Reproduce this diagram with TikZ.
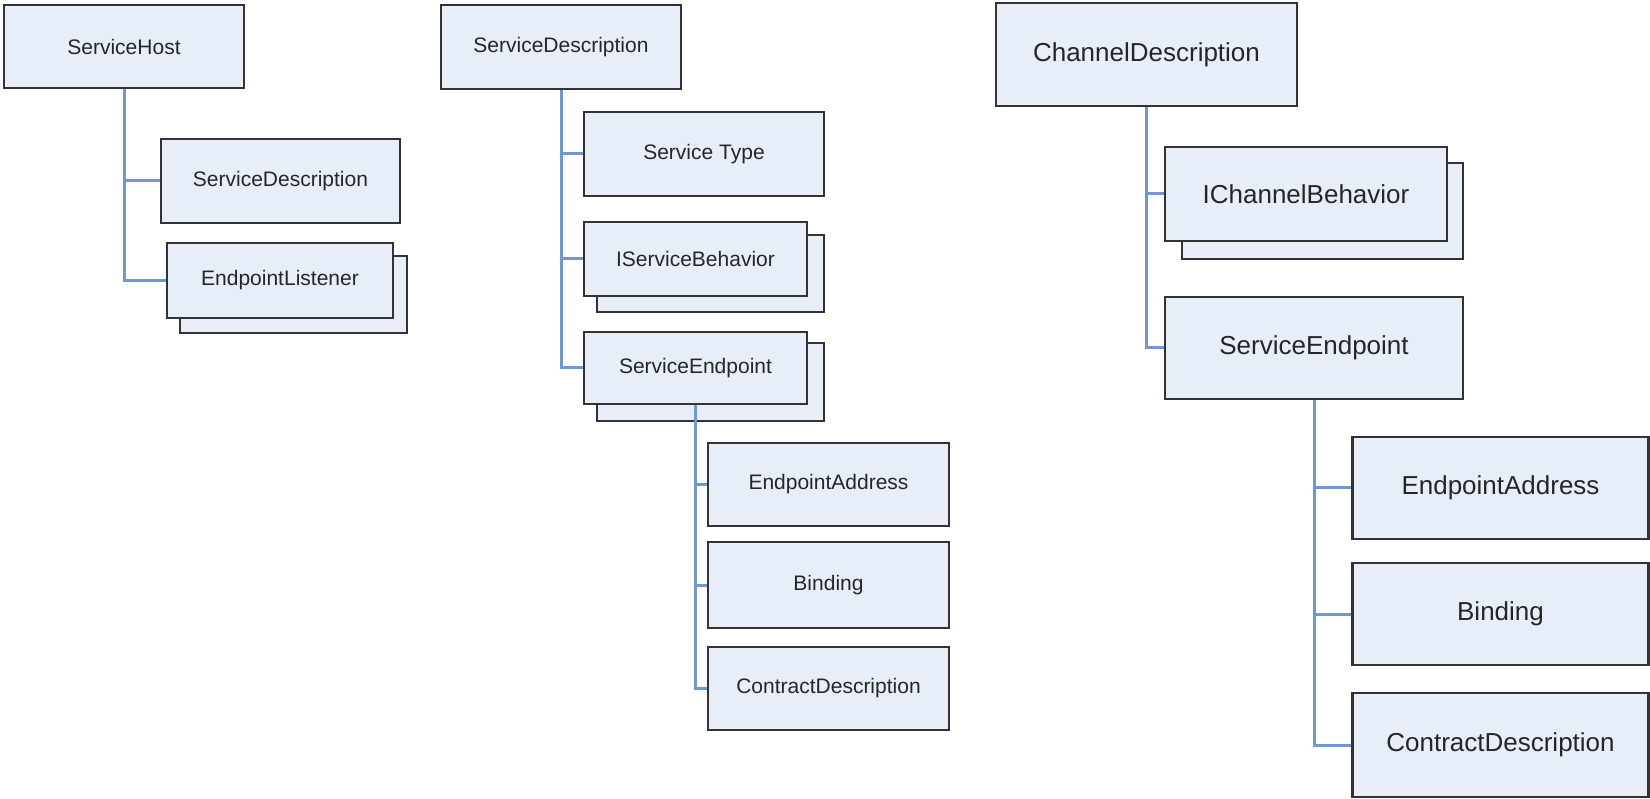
\documentclass[tikz,border=0pt]{standalone}
\usepackage{fontspec}
\setmainfont{Liberation Sans}
\definecolor{boxfill}{HTML}{E7EEF7}
\definecolor{boxline}{HTML}{333333}
\definecolor{conn}{HTML}{6F97D6}
\begin{document}
\begin{tikzpicture}[x=1pt,y=-1pt,
  cls/.style={draw=boxline,fill=boxfill,line width=2.6pt,inner sep=0pt,
    font=\fontsize{21}{25}\selectfont,text=black!85},
  big/.style={cls,font=\fontsize{26}{30}\selectfont},
  link/.style={draw=conn,line width=3pt}]
\useasboundingbox (0,0) rectangle (1650,799);
% ---------- left column ----------
\node[cls,minimum width=240,minimum height=83] (sh) at (124,46.5) {ServiceHost};
\node[cls,minimum width=239,minimum height=84] (sd1) at (280.5,181) {ServiceDescription};
\node[cls,minimum width=227,minimum height=77] (elB) at (293.5,294.5) {};
\node[cls,minimum width=226,minimum height=75] (el) at (280,280.5) {EndpointListener};
% ---------- middle column ----------
\node[cls,minimum width=240,minimum height=84] (sd2) at (561,47) {ServiceDescription};
\node[cls,minimum width=240,minimum height=84] (st) at (704,154) {Service Type};
\node[cls,minimum width=227,minimum height=77] (isbB) at (710.5,273.5) {};
\node[cls,minimum width=223,minimum height=74] (isb) at (695.5,259) {IServiceBehavior};
\node[cls,minimum width=227,minimum height=78] (seB) at (710.5,382) {};
\node[cls,minimum width=223,minimum height=72] (se) at (695.5,368) {ServiceEndpoint};
\node[cls,minimum width=241,minimum height=83] (ea) at (828.5,484.5) {EndpointAddress};
\node[cls,minimum width=241,minimum height=86] (bi) at (828.5,585) {Binding};
\node[cls,minimum width=241,minimum height=83] (cd) at (828.5,688.5) {ContractDescription};
% ---------- right column ----------
\node[big,minimum width=301,minimum height=103] (chd) at (1146.5,54.5) {ChannelDescription};
\node[big,minimum width=281,minimum height=96] (icbB) at (1322.5,211) {};
\node[big,minimum width=282,minimum height=94] (icb) at (1306,194) {IChannelBehavior};
\node[big,minimum width=298,minimum height=102] (se3) at (1314,348) {ServiceEndpoint};
\node[big,minimum width=296,minimum height=102] (ea3) at (1500.5,488) {EndpointAddress};
\node[big,minimum width=296,minimum height=102] (bi3) at (1500.5,614) {Binding};
\node[big,minimum width=296,minimum height=104] (cd3) at (1500.5,745) {ContractDescription};
% ---------- connectors ----------
\draw[link] (sh.south) |- (sd1.west);
\draw[link] (sh.south) |- (el.west);
\draw[link] (sd2.south) |- (st.west);
\draw[link] (sd2.south) |- (isb.west);
\draw[link] (sd2.south) |- (se.west);
\draw[link] (se.south) |- (ea.west);
\draw[link] (se.south) |- (bi.west);
\draw[link] (se.south) |- (cd.west);
\draw[link] (chd.south) |- (icb.west);
\draw[link] (chd.south) |- (se3.west);
\draw[link] (se3.south) |- (ea3.west);
\draw[link] (se3.south) |- (bi3.west);
\draw[link] (se3.south) |- (cd3.west);
\end{tikzpicture}
\end{document}
